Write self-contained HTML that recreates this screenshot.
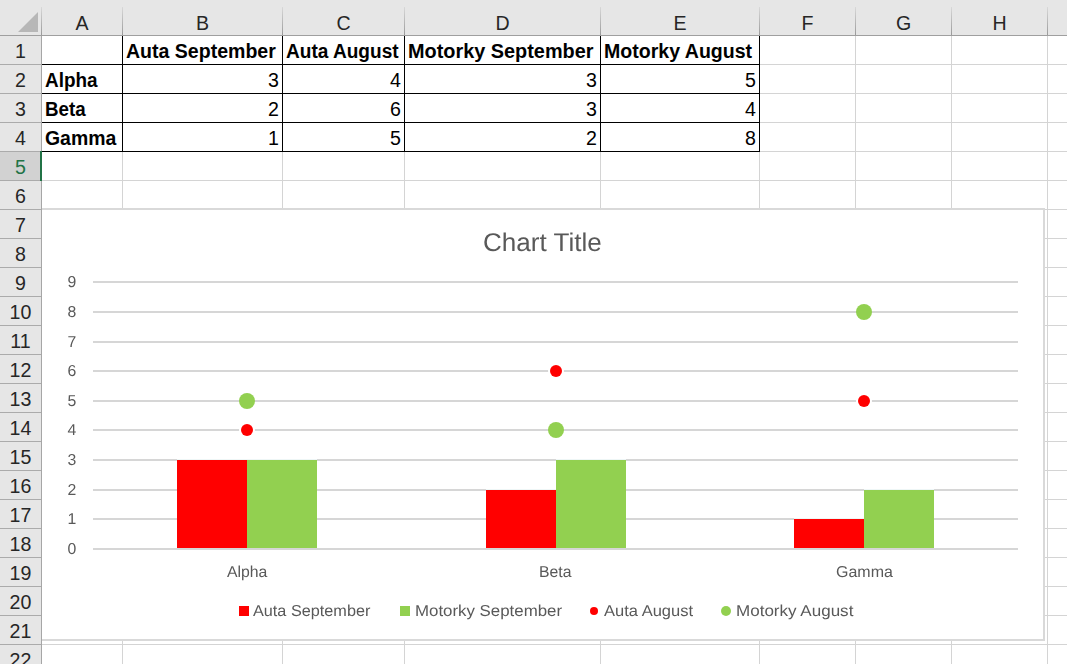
<!DOCTYPE html>
<html><head><meta charset="utf-8"><title>Sheet</title>
<style>
html,body{margin:0;padding:0;}
body{width:1067px;height:664px;overflow:hidden;background:#fff;position:relative;font-family:"Liberation Sans",sans-serif;}
div,span{position:absolute;box-sizing:border-box;}
.t{white-space:nowrap;transform-origin:0 0;line-height:1;}
.vl{width:1px;background:#d4d4d4;}
.hl{height:1px;background:#d4d4d4;}
.bk{background:#000;}
.hd{background:#e6e6e6;}
.cl{color:#262626;font-size:19.6px;text-align:center;}
.gl{height:2px;background:#d6d6d6;left:93px;width:925px;}
.ax{color:#595959;font-size:15.8px;}
.g{text-rendering:geometricPrecision;will-change:transform;}
</style></head><body>

<div class="vl" style="left:122px;top:36px;height:628px"></div>
<div class="vl" style="left:282px;top:36px;height:628px"></div>
<div class="vl" style="left:404px;top:36px;height:628px"></div>
<div class="vl" style="left:600px;top:36px;height:628px"></div>
<div class="vl" style="left:759px;top:36px;height:628px"></div>
<div class="vl" style="left:855px;top:36px;height:628px"></div>
<div class="vl" style="left:951px;top:36px;height:628px"></div>
<div class="vl" style="left:1047px;top:36px;height:628px"></div>
<div class="hl" style="left:42px;top:64px;width:1025px"></div>
<div class="hl" style="left:42px;top:93px;width:1025px"></div>
<div class="hl" style="left:42px;top:122px;width:1025px"></div>
<div class="hl" style="left:42px;top:151px;width:1025px"></div>
<div class="hl" style="left:42px;top:180px;width:1025px"></div>
<div class="hl" style="left:42px;top:209px;width:1025px"></div>
<div class="hl" style="left:42px;top:238px;width:1025px"></div>
<div class="hl" style="left:42px;top:267px;width:1025px"></div>
<div class="hl" style="left:42px;top:296px;width:1025px"></div>
<div class="hl" style="left:42px;top:325px;width:1025px"></div>
<div class="hl" style="left:42px;top:354px;width:1025px"></div>
<div class="hl" style="left:42px;top:383px;width:1025px"></div>
<div class="hl" style="left:42px;top:412px;width:1025px"></div>
<div class="hl" style="left:42px;top:441px;width:1025px"></div>
<div class="hl" style="left:42px;top:470px;width:1025px"></div>
<div class="hl" style="left:42px;top:499px;width:1025px"></div>
<div class="hl" style="left:42px;top:528px;width:1025px"></div>
<div class="hl" style="left:42px;top:557px;width:1025px"></div>
<div class="hl" style="left:42px;top:586px;width:1025px"></div>
<div class="hl" style="left:42px;top:615px;width:1025px"></div>
<div class="hl" style="left:42px;top:644px;width:1025px"></div>
<div class="hl" style="left:42px;top:673px;width:1025px"></div>
<div class="hd" style="left:0;top:0;width:1067px;height:35px"></div>
<div class="hd" style="left:0;top:0;width:41px;height:664px"></div>
<div style="left:0;top:152px;width:41px;height:28px;background:#d2d2d2"></div>
<div style="left:0;top:35px;width:1067px;height:1px;background:#9f9f9f"></div>
<div style="left:41px;top:36px;width:1px;height:628px;background:#a6a6a6"></div>
<div style="left:41px;top:7px;width:1px;height:28px;background:linear-gradient(#d8d8d8,#9a9a9a)"></div>
<div style="left:122px;top:7px;width:1px;height:28px;background:linear-gradient(#d8d8d8,#9a9a9a)"></div>
<div style="left:282px;top:7px;width:1px;height:28px;background:linear-gradient(#d8d8d8,#9a9a9a)"></div>
<div style="left:404px;top:7px;width:1px;height:28px;background:linear-gradient(#d8d8d8,#9a9a9a)"></div>
<div style="left:600px;top:7px;width:1px;height:28px;background:linear-gradient(#d8d8d8,#9a9a9a)"></div>
<div style="left:759px;top:7px;width:1px;height:28px;background:linear-gradient(#d8d8d8,#9a9a9a)"></div>
<div style="left:855px;top:7px;width:1px;height:28px;background:linear-gradient(#d8d8d8,#9a9a9a)"></div>
<div style="left:951px;top:7px;width:1px;height:28px;background:linear-gradient(#d8d8d8,#9a9a9a)"></div>
<div style="left:1047px;top:7px;width:1px;height:28px;background:linear-gradient(#d8d8d8,#9a9a9a)"></div>
<div style="left:0;top:64px;width:41px;height:1px;background:#ababab"></div>
<div style="left:0;top:93px;width:41px;height:1px;background:#ababab"></div>
<div style="left:0;top:122px;width:41px;height:1px;background:#ababab"></div>
<div style="left:0;top:151px;width:41px;height:1px;background:#ababab"></div>
<div style="left:0;top:180px;width:41px;height:1px;background:#ababab"></div>
<div style="left:0;top:209px;width:41px;height:1px;background:#ababab"></div>
<div style="left:0;top:238px;width:41px;height:1px;background:#ababab"></div>
<div style="left:0;top:267px;width:41px;height:1px;background:#ababab"></div>
<div style="left:0;top:296px;width:41px;height:1px;background:#ababab"></div>
<div style="left:0;top:325px;width:41px;height:1px;background:#ababab"></div>
<div style="left:0;top:354px;width:41px;height:1px;background:#ababab"></div>
<div style="left:0;top:383px;width:41px;height:1px;background:#ababab"></div>
<div style="left:0;top:412px;width:41px;height:1px;background:#ababab"></div>
<div style="left:0;top:441px;width:41px;height:1px;background:#ababab"></div>
<div style="left:0;top:470px;width:41px;height:1px;background:#ababab"></div>
<div style="left:0;top:499px;width:41px;height:1px;background:#ababab"></div>
<div style="left:0;top:528px;width:41px;height:1px;background:#ababab"></div>
<div style="left:0;top:557px;width:41px;height:1px;background:#ababab"></div>
<div style="left:0;top:586px;width:41px;height:1px;background:#ababab"></div>
<div style="left:0;top:615px;width:41px;height:1px;background:#ababab"></div>
<div style="left:0;top:644px;width:41px;height:1px;background:#ababab"></div>
<div style="left:0;top:673px;width:41px;height:1px;background:#ababab"></div>
<div style="left:40px;top:151px;width:2px;height:30px;background:#217346"></div>
<div style="left:17.5px;top:11.5px;width:0;height:0;border-left:20.5px solid transparent;border-bottom:20.5px solid #b7b7b7"></div>
<div class="t cl" style="left:62.0px;width:40px;top:14px">A</div>
<div class="t cl" style="left:182.5px;width:40px;top:14px">B</div>
<div class="t cl" style="left:323.5px;width:40px;top:14px">C</div>
<div class="t cl" style="left:482.5px;width:40px;top:14px">D</div>
<div class="t cl" style="left:660.0px;width:40px;top:14px">E</div>
<div class="t cl" style="left:787.5px;width:40px;top:14px">F</div>
<div class="t cl" style="left:883.5px;width:40px;top:14px">G</div>
<div class="t cl" style="left:979.5px;width:40px;top:14px">H</div>
<div class="t cl" style="left:0;width:41px;top:42px;color:#262626">1</div>
<div class="t cl" style="left:0;width:41px;top:71px;color:#262626">2</div>
<div class="t cl" style="left:0;width:41px;top:100px;color:#262626">3</div>
<div class="t cl" style="left:0;width:41px;top:129px;color:#262626">4</div>
<div class="t cl" style="left:0;width:41px;top:158px;color:#217346">5</div>
<div class="t cl" style="left:0;width:41px;top:187px;color:#262626">6</div>
<div class="t cl" style="left:0;width:41px;top:216px;color:#262626">7</div>
<div class="t cl" style="left:0;width:41px;top:245px;color:#262626">8</div>
<div class="t cl" style="left:0;width:41px;top:274px;color:#262626">9</div>
<div class="t cl" style="left:0;width:41px;top:303px;color:#262626">10</div>
<div class="t cl" style="left:0;width:41px;top:332px;color:#262626">11</div>
<div class="t cl" style="left:0;width:41px;top:361px;color:#262626">12</div>
<div class="t cl" style="left:0;width:41px;top:390px;color:#262626">13</div>
<div class="t cl" style="left:0;width:41px;top:419px;color:#262626">14</div>
<div class="t cl" style="left:0;width:41px;top:448px;color:#262626">15</div>
<div class="t cl" style="left:0;width:41px;top:477px;color:#262626">16</div>
<div class="t cl" style="left:0;width:41px;top:506px;color:#262626">17</div>
<div class="t cl" style="left:0;width:41px;top:535px;color:#262626">18</div>
<div class="t cl" style="left:0;width:41px;top:564px;color:#262626">19</div>
<div class="t cl" style="left:0;width:41px;top:593px;color:#262626">20</div>
<div class="t cl" style="left:0;width:41px;top:622px;color:#262626">21</div>
<div class="t cl" style="left:0;width:41px;top:651px;color:#262626">22</div>
<div class="bk" style="left:42px;top:64px;width:718px;height:1px"></div>
<div class="bk" style="left:42px;top:93px;width:718px;height:1px"></div>
<div class="bk" style="left:42px;top:122px;width:718px;height:1px"></div>
<div class="bk" style="left:42px;top:151px;width:718px;height:1px"></div>
<div class="bk" style="left:122px;top:36px;height:116px;width:1px"></div>
<div class="bk" style="left:282px;top:36px;height:116px;width:1px"></div>
<div class="bk" style="left:404px;top:36px;height:116px;width:1px"></div>
<div class="bk" style="left:600px;top:36px;height:116px;width:1px"></div>
<div class="bk" style="left:759px;top:36px;height:116px;width:1px"></div>
<div class="t" style="left:126.2px;top:42px;font-size:19.6px;font-weight:bold;color:#000;transform:scaleX(0.997);">Auta September</div>
<div class="t" style="left:286.2px;top:42px;font-size:19.6px;font-weight:bold;color:#000;transform:scaleX(0.973);">Auta August</div>
<div class="t" style="left:407.5px;top:42px;font-size:19.6px;font-weight:bold;color:#000;transform:scaleX(1.014);">Motorky September</div>
<div class="t" style="left:603.5px;top:42px;font-size:19.6px;font-weight:bold;color:#000;transform:scaleX(0.998);">Motorky August</div>
<div class="t" style="left:45px;top:71px;font-size:19.6px;font-weight:bold;color:#000;transform:scaleX(0.965);">Alpha</div>
<div class="t" style="left:45px;top:100px;font-size:19.6px;font-weight:bold;color:#000;transform:scaleX(0.957);">Beta</div>
<div class="t" style="left:45px;top:129px;font-size:19.6px;font-weight:bold;color:#000;transform:scaleX(0.991);">Gamma</div>
<div class="t" style="left:239px;width:40px;text-align:right;top:71px;font-size:19.6px;color:#000">3</div>
<div class="t" style="left:361px;width:40px;text-align:right;top:71px;font-size:19.6px;color:#000">4</div>
<div class="t" style="left:557px;width:40px;text-align:right;top:71px;font-size:19.6px;color:#000">3</div>
<div class="t" style="left:716px;width:40px;text-align:right;top:71px;font-size:19.6px;color:#000">5</div>
<div class="t" style="left:239px;width:40px;text-align:right;top:100px;font-size:19.6px;color:#000">2</div>
<div class="t" style="left:361px;width:40px;text-align:right;top:100px;font-size:19.6px;color:#000">6</div>
<div class="t" style="left:557px;width:40px;text-align:right;top:100px;font-size:19.6px;color:#000">3</div>
<div class="t" style="left:716px;width:40px;text-align:right;top:100px;font-size:19.6px;color:#000">4</div>
<div class="t" style="left:239px;width:40px;text-align:right;top:129px;font-size:19.6px;color:#000">1</div>
<div class="t" style="left:361px;width:40px;text-align:right;top:129px;font-size:19.6px;color:#000">5</div>
<div class="t" style="left:557px;width:40px;text-align:right;top:129px;font-size:19.6px;color:#000">2</div>
<div class="t" style="left:716px;width:40px;text-align:right;top:129px;font-size:19.6px;color:#000">8</div>
<div style="left:42px;top:208px;width:1003px;height:433px;background:#fff;border:2px solid #d9d9d9;border-left:none"></div>
<div class="gl" style="top:548px"></div>
<div class="t ax g" style="left:62px;width:20px;text-align:center;top:542px">0</div>
<div class="gl" style="top:518px"></div>
<div class="t ax g" style="left:62px;width:20px;text-align:center;top:512px">1</div>
<div class="gl" style="top:489px"></div>
<div class="t ax g" style="left:62px;width:20px;text-align:center;top:483px">2</div>
<div class="gl" style="top:459px"></div>
<div class="t ax g" style="left:62px;width:20px;text-align:center;top:453px">3</div>
<div class="gl" style="top:429px"></div>
<div class="t ax g" style="left:62px;width:20px;text-align:center;top:423px">4</div>
<div class="gl" style="top:400px"></div>
<div class="t ax g" style="left:62px;width:20px;text-align:center;top:394px">5</div>
<div class="gl" style="top:370px"></div>
<div class="t ax g" style="left:62px;width:20px;text-align:center;top:364px">6</div>
<div class="gl" style="top:341px"></div>
<div class="t ax g" style="left:62px;width:20px;text-align:center;top:335px">7</div>
<div class="gl" style="top:311px"></div>
<div class="t ax g" style="left:62px;width:20px;text-align:center;top:305px">8</div>
<div class="gl" style="top:281px"></div>
<div class="t ax g" style="left:62px;width:20px;text-align:center;top:275px">9</div>
<div style="left:177px;top:459px;width:70px;height:89px;background:#ff0000;border-top:1px solid #eef6f6"></div>
<div style="left:247px;top:459px;width:70px;height:89px;background:#92d050;border-top:1px solid #eef6f6"></div>
<div style="left:486px;top:489px;width:70px;height:59px;background:#ff0000;border-top:1px solid #eef6f6"></div>
<div style="left:556px;top:459px;width:70px;height:89px;background:#92d050;border-top:1px solid #eef6f6"></div>
<div style="left:794px;top:518px;width:70px;height:30px;background:#ff0000;border-top:1px solid #eef6f6"></div>
<div style="left:864px;top:489px;width:70px;height:59px;background:#92d050;border-top:1px solid #eef6f6"></div>
<div style="left:239px;top:393px;width:16px;height:16px;border-radius:50%;background:#92d050"></div>
<div style="left:548px;top:422px;width:16px;height:16px;border-radius:50%;background:#92d050"></div>
<div style="left:856px;top:304px;width:16px;height:16px;border-radius:50%;background:#92d050"></div>
<div style="left:239px;top:422px;width:16px;height:16px;border-radius:50%;background:#fff"></div>
<div style="left:241px;top:424px;width:12px;height:12px;border-radius:50%;background:#ff0000"></div>
<div style="left:548px;top:363px;width:16px;height:16px;border-radius:50%;background:#fff"></div>
<div style="left:550px;top:365px;width:12px;height:12px;border-radius:50%;background:#ff0000"></div>
<div style="left:856px;top:393px;width:16px;height:16px;border-radius:50%;background:#fff"></div>
<div style="left:858px;top:395px;width:12px;height:12px;border-radius:50%;background:#ff0000"></div>
<div class="t g" style="left:483px;top:231px;font-size:25.6px;font-weight:normal;color:#595959;transform:scaleX(1.018);">Chart Title</div>
<div class="t g" style="left:226.8px;top:565px;font-size:15.8px;font-weight:normal;color:#595959;">Alpha</div>
<div class="t g" style="left:539px;top:565px;font-size:15.8px;font-weight:normal;color:#595959;">Beta</div>
<div class="t g" style="left:835.8px;top:565px;font-size:15.8px;font-weight:normal;color:#595959;transform:scaleX(1.012);">Gamma</div>
<div style="left:239px;top:606px;width:10px;height:10px;background:#ff0000"></div>
<div style="left:400px;top:606px;width:10px;height:10px;background:#92d050"></div>
<div style="left:590px;top:607px;width:8px;height:8px;border-radius:50%;background:#ff0000"></div>
<div style="left:721px;top:606px;width:10px;height:10px;border-radius:50%;background:#92d050"></div>
<div class="t g" style="left:253.4px;top:604px;font-size:15.8px;font-weight:normal;color:#595959;transform:scaleX(1.028);">Auta September</div>
<div class="t g" style="left:415.0px;top:604px;font-size:15.8px;font-weight:normal;color:#595959;transform:scaleX(1.067);">Motorky September</div>
<div class="t g" style="left:604.3px;top:604px;font-size:15.8px;font-weight:normal;color:#595959;transform:scaleX(1.045);">Auta August</div>
<div class="t g" style="left:735.6px;top:604px;font-size:15.8px;font-weight:normal;color:#595959;transform:scaleX(1.078);">Motorky August</div>
</body></html>
